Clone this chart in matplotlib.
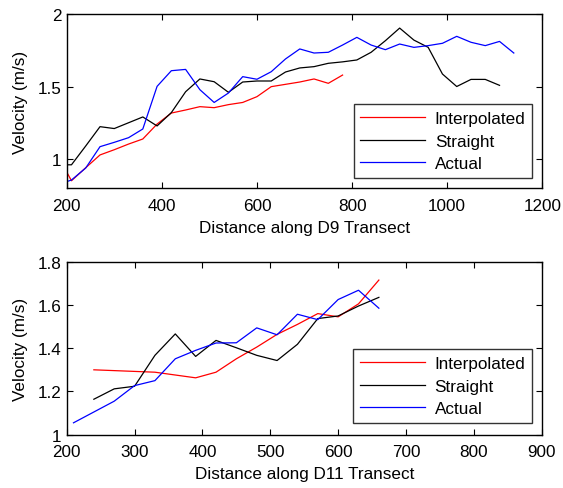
import matplotlib
matplotlib.use("Agg")
import matplotlib.pyplot as plt

plt.rcParams['font.family'] = ['Liberation Sans', 'DejaVu Sans']

# ---- Top panel (D9 transect) ----
d9_interp_x = [200, 210, 240, 270, 300, 330, 360, 390, 420, 450, 480, 510, 540, 570,
               600, 630, 660, 690, 720, 750, 780]
d9_interp_y = [0.91, 0.85, 0.94, 1.028, 1.064, 1.103, 1.138, 1.241, 1.317, 1.338, 1.361,
               1.354, 1.375, 1.39, 1.43, 1.499, 1.515, 1.531, 1.552, 1.522, 1.579]

d9_straight_x = [200, 210, 240, 270, 300, 330, 360, 390, 420, 450, 480, 510, 540, 570,
                 600, 630, 660, 690, 720, 750, 780, 810, 840, 870, 900, 930, 960, 990,
                 1020, 1050, 1080, 1110]
d9_straight_y = [0.96, 0.96, 1.09, 1.223, 1.21, 1.25, 1.29, 1.228, 1.32, 1.464, 1.552,
                 1.533, 1.46, 1.531, 1.538, 1.538, 1.6, 1.628, 1.637, 1.66, 1.67, 1.683,
                 1.736, 1.816, 1.903, 1.82, 1.77, 1.586, 1.5, 1.549, 1.549, 1.508]

d9_actual_x = [200, 210, 240, 270, 300, 330, 360, 390, 420, 450, 480, 510, 540, 570,
               600, 630, 660, 690, 720, 750, 780, 810, 840, 870, 900, 930, 960, 990,
               1020, 1050, 1080, 1110, 1140]
d9_actual_y = [0.844, 0.855, 0.938, 1.085, 1.115, 1.147, 1.207, 1.501, 1.609, 1.618, 1.478,
               1.39, 1.455, 1.568, 1.55, 1.602, 1.69, 1.759, 1.731, 1.736, 1.786, 1.839,
               1.786, 1.754, 1.793, 1.77, 1.782, 1.798, 1.846, 1.805, 1.782, 1.811, 1.731]

# ---- Bottom panel (D11 transect) ----
d11_interp_x = [240, 330, 390, 420, 450, 480, 510, 540, 570, 600, 630, 660]
d11_interp_y = [1.30, 1.289, 1.263, 1.289, 1.351, 1.405, 1.464, 1.51, 1.56, 1.545, 1.605, 1.715]

d11_straight_x = [240, 270, 300, 330, 360, 390, 420, 450, 480, 510, 540, 570, 600, 630, 660]
d11_straight_y = [1.164, 1.212, 1.224, 1.367, 1.466, 1.362, 1.436, 1.402, 1.367, 1.343,
                  1.418, 1.537, 1.549, 1.595, 1.635]

d11_actual_x = [210, 270, 300, 330, 360, 390, 420, 450, 480, 510, 540, 570, 600, 630, 660]
d11_actual_y = [1.055, 1.155, 1.227, 1.25, 1.351, 1.39, 1.424, 1.425, 1.494, 1.462,
                1.557, 1.532, 1.625, 1.668, 1.585]

series_labels = ["Interpolated", "Straight", "Actual"]
series_colors = ["#ff0000", "#000000", "#0000ff"]

top_xticks = [200, 400, 600, 800, 1000, 1200]
top_yticks = [1, 1.5, 2]
top_yticklabels = ["1", "1.5", "2"]
bot_xticks = [200, 300, 400, 500, 600, 700, 800, 900]
bot_yticks = [1, 1.2, 1.4, 1.6, 1.8]
bot_yticklabels = ["1", "1.2", "1.4", "1.6", "1.8"]

FS = 12.3

fig = plt.figure(figsize=(5.63, 4.89), dpi=100)
ax1 = fig.add_axes([0.1185, 0.6135, 0.8448, 0.3558])
ax2 = fig.add_axes([0.1185, 0.109, 0.8437, 0.3538])


def style(ax, xlim, ylim, xticks, yticks, yticklabels, xlabel, leg_anchor):
    ax.set_xlim(*xlim)
    ax.set_ylim(*ylim)
    ax.set_xticks(xticks)
    ax.set_xticklabels([str(t) for t in xticks])
    ax.set_yticks(yticks)
    ax.set_yticklabels(yticklabels)
    ax.tick_params(direction='in', top=True, right=True, length=4, width=0.8,
                   labelsize=FS)
    ax.tick_params(axis='x', pad=7)
    ax.tick_params(axis='y', pad=4)
    for s in ax.spines.values():
        s.set_linewidth(1.0)
    ax.set_xlabel(xlabel, fontsize=FS, labelpad=5)
    ax.set_ylabel("Velocity (m/s)", fontsize=FS, labelpad=7)
    leg = ax.legend(loc='lower right', bbox_to_anchor=leg_anchor, borderaxespad=0,
                    fontsize=FS, frameon=True, fancybox=False, edgecolor='black',
                    handlelength=3.8, handletextpad=0.55, labelspacing=0.45,
                    borderpad=0.4)
    leg.get_frame().set_linewidth(1.0)


for x, y, lab, col in zip([d9_interp_x, d9_straight_x, d9_actual_x],
                          [d9_interp_y, d9_straight_y, d9_actual_y],
                          series_labels, series_colors):
    ax1.plot(x, y, color=col, lw=0.9, label=lab)

for x, y, lab, col in zip([d11_interp_x, d11_straight_x, d11_actual_x],
                          [d11_interp_y, d11_straight_y, d11_actual_y],
                          series_labels, series_colors):
    ax2.plot(x, y, color=col, lw=0.9, label=lab)

style(ax1, (200, 1200), (0.8, 2.0), top_xticks, top_yticks, top_yticklabels,
      "Distance along D9 Transect", (0.979, 0.057))
style(ax2, (200, 900), (1.0, 1.8), bot_xticks, bot_yticks, bot_yticklabels,
      "Distance along D11 Transect", (0.980, 0.066))

fig.savefig("out.png", dpi=100)
